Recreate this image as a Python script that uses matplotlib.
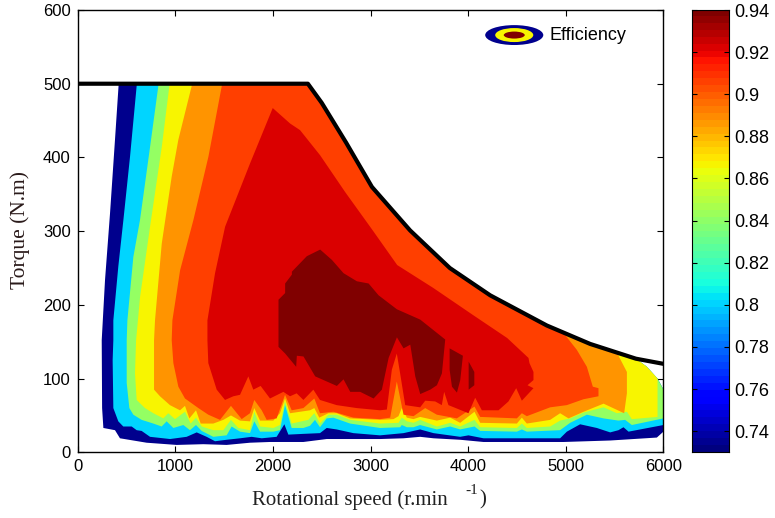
import numpy as np
import matplotlib
matplotlib.use("Agg")
import matplotlib.pyplot as plt
from matplotlib.patches import Ellipse

# Envelope (speed, torque)
envelope_speed = [0, 2358, 2500, 2750, 3014, 3405, 3812, 4225, 4806, 5250, 5718, 6000]
envelope_torque = [500, 500, 474, 420, 360, 301, 250, 213, 172, 147, 127, 120]

# Outer edge of the mapped region
blue_edge = [(420,500),(382,424),(331,324),(280,234),(246,152),(250,60),(263,33),(382,30),(433,19),(706,13),(1014,10),
             (1287,11),(1526,10),(1765,13),(1970,14),(2107,14),(2312,14),(2551,18),(3097,18),(3338,19),
             (3508,21),(3645,19),(3918,17),(4157,14),(4977,14),(5455,16),(5933,20),(6000,28),(6000,85),
             (5940,100),(5830,116)]
# Level boundaries, from top-left down and along the bottom
cyan_edge = [(604,600),(604,497),(536,401),(468,315),(416,252),(365,179),(365,152),(358,125),(365,60),(416,42),(467,35),(553,35),(604,30),(655,29),
             (741,21),(946,18),(1116,21),(1219,27),(1321,21),(1407,15),(1526,17),(1663,19),(1782,21),(1885,19),
             (2038,21),(2117,38),(2158,24),(2312,25),(2482,26),(2551,33),(2653,31),(2824,26),(3097,23),(3338,26),
             (3508,31),(3645,26),(3918,21),(4003,23),(4157,19),(4942,19),(5011,28),(5147,38),(5318,33),(5455,27),
             (5540,30),(5591,34),(5643,28),(6000,37),(6000,600)]
green_edge = [(826,600),(826,497),(741,414),(638,315),(570,265),(509,179),(502,152),(502,94),(529,60),(570,51),(655,44),(775,39),(860,35),(911,42),
              (980,33),(1082,37),(1150,30),(1212,37),(1270,29),(1389,21),(1526,23),(1577,35),(1663,28),(1765,26),
              (1809,42),(1868,28),(2004,28),(2072,30),(2124,64),(2192,33),(2312,33),(2380,36),(2431,44),(2482,34),
              (2551,46),(2619,47),(2790,39),(3097,33),(3303,34),(3320,37),(3372,34),(3440,34),(3508,37),(3679,31),
              (3816,35),(3918,31),(4065,35),(4123,29),(4499,28),(4550,31),(4601,28),(4942,30),(5045,40),(5216,51),
              (5387,46),(5540,43),(5608,44),(5677,37),(6000,46),(6000,600)]
yellow_edge = [(939,600),(939,497),(861,414),(741,306),(639,211),(598,152),(587,107),(604,71),(689,60),(775,53),(877,46),(928,53),(997,45),
               (1099,55),(1157,39),(1212,47),(1270,35),(1389,30),(1492,30),(1570,44),(1646,33),(1765,30),(1809,55),
               (1868,35),(2004,33),(2072,37),(2124,69),(2192,39),(2363,44),(2424,53),(2482,39),(2568,51),(2653,51),
               (2790,44),(3097,39),(3286,40),(3320,47),(3372,42),(3440,40),(3508,44),(3679,35),(3816,40),(3918,35),
               (4065,44),(4123,34),(4499,33),(4550,39),(4601,33),(4840,35),(4942,43),(5045,46),(5182,54),(5387,61),
               (5523,53),(5626,55),(5677,45),(5940,48),(5940,600)]
orange_edge = [(1168,600),(1168,497),(1031,424),(963,374),(861,283),(792,179),(782,152),(782,85),(843,76),(945,64),(1048,57),(1099,63),(1144,46),(1212,57),
               (1260,39),(1389,39),(1492,44),(1570,50),(1663,43),(1765,42),(1809,60),(1868,43),(2004,43),(2072,53),
               (2124,73),(2175,53),(2380,57),(2424,60),(2475,47),(2568,53),(2653,53),(2790,46),(3097,44),(3235,45),
               (3286,49),(3320,60),(3372,47),(3440,45),(3508,48),(3679,43),(3816,47),(3918,40),(4065,55),(4123,40),
               (4499,39),(4550,47),(4601,39),(4840,44),(4942,53),(5028,46),(5182,55),(5387,66),(5598,53),(5626,80),
               (5626,109),(5540,131),(5500,600)]
orangered_edge = [(1476,600),(1476,497),(1339,401),(1185,315),(1049,247),(970,179),(963,152),(980,121),(1031,89),(1099,73),(1236,60),(1338,51),(1458,44),
                  (1570,63),(1680,45),(1765,53),(1809,71),(1885,57),(1936,44),(2038,46),(2124,78),(2192,57),(2312,60),
                  (2424,73),(2482,53),(2619,55),(2824,47),(3097,45),(3201,47),(3269,96),(3338,51),(3440,49),(3560,60),
                  (3679,51),(3884,46),(4065,62),(4123,48),(4499,46),(4550,53),(4601,49),(4840,61),(5011,64),(5182,72),
                  (5335,76),(5335,87),(5277,89),(5216,116),(5113,139),(4994,159),(4950,600)]
red_edge = [(1998,467),(1766,392),(1510,306),(1407,243),(1329,179),(1329,152),(1338,121),(1424,85),(1509,71),(1594,76),
            (1663,78),(1748,103),(1799,85),(1874,90),(1970,73),(2107,82),(2175,76),(2243,80),(2312,71),(2414,85),
            (2482,71),(2653,64),(2858,60),(3097,57),(3167,58),(3218,112),(3269,134),(3303,107),(3355,64),(3508,61),
            (3560,70),(3662,69),(3730,64),(3754,82),(3798,64),(4003,53),(4072,74),(4140,57),(4311,57),(4413,69),
            (4492,87),(4550,70),(4669,87),(4608,91),(4669,98),(4669,109),(4628,121),(4618,128),(4400,155),(4052,186),
            (3642,223),(3273,254),(3017,302),(2740,353),(2483,403),(2278,437),(2176,446)]
darkred_main = [(2484,275),(2604,261),(2723,243),(2860,232),(2980,229),(3082,213),(3270,194),(3509,180),(3765,153),
                (3731,107),(3680,91),(3612,85),(3509,79),(3458,103),(3407,146),(3338,141),(3270,156),(3185,128),
                (3116,85),(3031,73),(2894,82),(2792,82),(2723,99),(2655,90),(2433,103),(2313,130),(2245,131),(2238,116),
                (2125,134),(2057,143),(2057,207),(2125,216),(2125,229),(2194,241),(2194,245),(2347,266)]
darkred_mid = [(3810,141),(3946,131),(3919,98),(3885,81),(3834,89),(3810,112)]
darkred_right = [(4005,123),(4063,109),(4063,91),(4005,85)]

band_levels = [0.733, 0.80, 0.841, 0.8665, 0.8875, 0.9064, 0.923, 0.94]
band_edges = [None, cyan_edge, green_edge, yellow_edge, orange_edge, orangered_edge, red_edge]
x_ticks = [0, 1000, 2000, 3000, 4000, 5000, 6000]
y_ticks = [0, 100, 200, 300, 400, 500, 600]
cbar_ticks = [0.74, 0.76, 0.78, 0.80, 0.82, 0.84, 0.86, 0.88, 0.90, 0.92, 0.94]
cbar_labels = ['0.74', '0.76', '0.78', '0.8', '0.82', '0.84', '0.86', '0.88', '0.9', '0.92', '0.94']

W, H = 775, 518
fig = plt.figure(figsize=(W / 100, H / 100), dpi=100, facecolor='white')
ax = fig.add_axes([77.7 / W, 1 - 452.3 / H, (663.4 - 77.7) / W, (452.3 - 10) / H])
cax = fig.add_axes([692.3 / W, 1 - 452.3 / H, 37 / W, (452.3 - 10) / H])

cmap = plt.get_cmap('jet')
bar_cmap = plt.get_cmap('jet', 64)
vmin, vmax = 0.73, 0.94
col = lambda v: cmap((v - vmin) / (vmax - vmin))

# hull: outer edge plus the envelope back to the start
hull_top = [(s, t) for s, t in zip(envelope_speed, envelope_torque) if 2358 <= s <= 5718][::-1]
hull = blue_edge + hull_top
hull_patch = ax.fill(*zip(*hull), color=col(band_levels[0]), lw=0, zorder=1)[0]
for lev, edge in zip(band_levels[1:], band_edges[1:]):
    p = ax.fill(*zip(*edge), color=col(lev), lw=0, zorder=2)[0]
    p.set_clip_path(hull_patch)
for poly in (darkred_main, darkred_mid, darkred_right):
    ax.fill(*zip(*poly), color=col(band_levels[-1]), lw=0, zorder=3)

ax.plot(envelope_speed, envelope_torque, color='black', lw=3.0, zorder=5, solid_capstyle='butt')

# legend key
for w, h, lev in [(595, 27, 0.733), (390, 19, 0.8665), (215, 9.5, 0.94)]:
    ax.add_patch(Ellipse((4472, 566), w, h, facecolor=col(lev), edgecolor='none', zorder=6))
ax.text(4830, 565, 'Efficiency', fontsize=13, family='Liberation Sans', va='center', ha='left', zorder=6)

ax.set_xlim(0, 6000)
ax.set_ylim(0, 600)
ax.set_xticks(x_ticks)
ax.set_yticks(y_ticks)
ax.tick_params(direction='in', length=4, width=0.8, top=True, right=True, labelsize=12, pad=5)
for lab in ax.get_xticklabels() + ax.get_yticklabels():
    lab.set_family('Liberation Sans')
for s in ax.spines.values():
    s.set_linewidth(1.0)

fig.text(252 / W, 1 - 500 / H, 'Rotational speed (r.min', fontsize=15, family='Liberation Serif', color='#222222',
         ha='left', va='center')
fig.text(465 / W, 1 - 491 / H, '-1', fontsize=11, family='Liberation Serif', color='#222222', ha='left', va='center')
fig.text(479 / W, 1 - 500 / H, ')', fontsize=15, family='Liberation Serif', color='#222222', ha='left', va='center')
fig.text(20 / W, 1 - 230 / H, 'Torque (N.m)', fontsize=15.5, family='Liberation Serif', color='#2a1a1a',
         rotation=90, ha='center', va='center')

grad = np.linspace(vmin, vmax, 64).reshape(-1, 1)
cax.imshow(grad, origin='lower', aspect='auto', cmap=bar_cmap, vmin=vmin, vmax=vmax, extent=[0, 1, vmin, vmax],
           interpolation='nearest')
cax.set_xticks([])
cax.set_yticks(cbar_ticks)
cax.set_yticklabels(cbar_labels, family='Liberation Sans')
cax.yaxis.tick_right()
cax.tick_params(axis='y', direction='in', length=3.5, width=0.8, left=True, right=True, labelsize=13, pad=3.5)
for s in cax.spines.values():
    s.set_linewidth(0.8)

fig.savefig('out.png', dpi=100, facecolor='white')
